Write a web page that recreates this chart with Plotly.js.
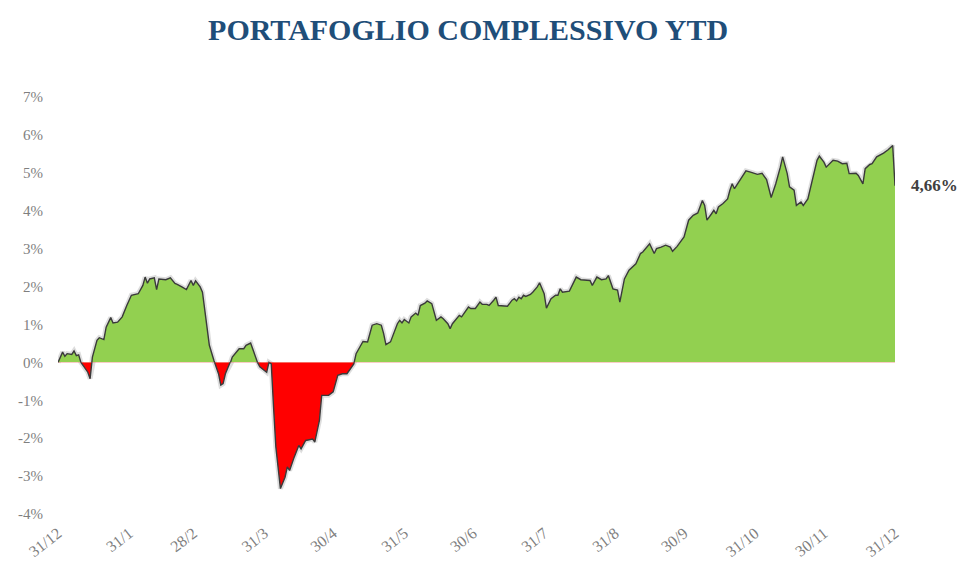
<!DOCTYPE html>
<html>
<head>
<meta charset="utf-8">
<script src="https://cdn.plot.ly/plotly-3.0.1.min.js"></script>
<style>html,body{margin:0;padding:0;background:#fff;}#chart{width:962px;height:570px;}</style>
</head>
<body>
<div id="chart"></div>
<script>
// Data (cumulative YTD return, %)
const dates = [
"2017-12-31","2018-01-02","2018-01-03","2018-01-04","2018-01-06","2018-01-07","2018-01-08","2018-01-09","2018-01-10","2018-01-12",
"2018-01-13","2018-01-14","2018-01-15","2018-01-17","2018-01-18","2018-01-20","2018-01-21","2018-01-23","2018-01-24","2018-01-26",
"2018-01-28","2018-01-30","2018-02-01","2018-02-04","2018-02-06","2018-02-07","2018-02-08","2018-02-09","2018-02-11","2018-02-12",
"2018-02-13","2018-02-16","2018-02-18","2018-02-20","2018-02-21","2018-02-23","2018-02-25","2018-02-27","2018-02-28","2018-03-01",
"2018-03-03","2018-03-04","2018-03-06","2018-03-07","2018-03-09","2018-03-11","2018-03-12","2018-03-13","2018-03-14","2018-03-16",
"2018-03-17","2018-03-19","2018-03-20","2018-03-22","2018-03-23","2018-03-25","2018-03-26","2018-03-28","2018-03-29","2018-03-31",
"2018-04-01","2018-04-02","2018-04-03","2018-04-04","2018-04-05","2018-04-07","2018-04-09","2018-04-10","2018-04-11","2018-04-13",
"2018-04-15","2018-04-16","2018-04-18","2018-04-21","2018-04-22","2018-04-24","2018-04-25","2018-04-28","2018-04-30","2018-05-02",
"2018-05-04","2018-05-06","2018-05-07","2018-05-09","2018-05-10","2018-05-12","2018-05-13","2018-05-15","2018-05-17","2018-05-19",
"2018-05-21","2018-05-22","2018-05-23","2018-05-25","2018-05-26","2018-05-28","2018-05-29","2018-05-30","2018-05-31","2018-06-02",
"2018-06-03","2018-06-05","2018-06-06","2018-06-07","2018-06-09","2018-06-10","2018-06-12","2018-06-13","2018-06-14","2018-06-16",
"2018-06-17","2018-06-19","2018-06-20","2018-06-21","2018-06-23","2018-06-24","2018-06-25","2018-06-27","2018-06-28","2018-06-29",
"2018-07-01","2018-07-03","2018-07-04","2018-07-06","2018-07-07","2018-07-09","2018-07-10","2018-07-11","2018-07-13","2018-07-15",
"2018-07-17","2018-07-18","2018-07-19","2018-07-20","2018-07-21","2018-07-22","2018-07-23","2018-07-25","2018-07-26","2018-07-28",
"2018-07-29","2018-07-31","2018-08-01","2018-08-03","2018-08-05","2018-08-06","2018-08-07","2018-08-08","2018-08-11","2018-08-14",
"2018-08-16","2018-08-19","2018-08-20","2018-08-21","2018-08-23","2018-08-25","2018-08-27","2018-08-28","2018-08-30","2018-09-01",
"2018-09-02","2018-09-04","2018-09-06","2018-09-09","2018-09-11","2018-09-12","2018-09-14","2018-09-15","2018-09-17","2018-09-18",
"2018-09-20","2018-09-22","2018-09-24","2018-09-25","2018-09-27","2018-09-30","2018-10-02","2018-10-04","2018-10-06","2018-10-08",
"2018-10-09","2018-10-10","2018-10-12","2018-10-13","2018-10-14","2018-10-15","2018-10-17","2018-10-19","2018-10-20","2018-10-21",
"2018-10-22","2018-10-24","2018-10-27","2018-10-29","2018-11-01","2018-11-03","2018-11-05","2018-11-07","2018-11-09","2018-11-11",
"2018-11-12","2018-11-14","2018-11-15","2018-11-17","2018-11-18","2018-11-20","2018-11-21","2018-11-23","2018-11-25","2018-11-27",
"2018-11-28","2018-11-30","2018-12-01","2018-12-04","2018-12-06","2018-12-08","2018-12-10","2018-12-11","2018-12-14","2018-12-15",
"2018-12-17","2018-12-18","2018-12-20","2018-12-21","2018-12-23","2018-12-26","2018-12-28","2018-12-30","2018-12-31"
];
const values = [
0.00,0.27,0.16,0.23,0.21,0.30,0.18,0.20,0.00,-0.17,
-0.26,-0.43,0.14,0.58,0.65,0.60,0.93,1.18,1.04,1.06,
1.20,1.50,1.77,1.81,2.03,2.25,2.09,2.20,2.23,1.92,
2.20,2.18,2.23,2.08,2.06,1.99,1.92,2.16,2.03,2.15,
1.99,1.85,0.93,0.45,0.05,-0.30,-0.60,-0.56,-0.30,-0.04,
0.14,0.27,0.36,0.36,0.45,0.51,0.32,0.00,-0.12,-0.21,
-0.26,0.00,-0.04,-1.18,-2.23,-3.33,-3.03,-2.76,-2.85,-2.50,
-2.19,-2.28,-2.06,-2.02,-2.10,-1.53,-0.87,-0.87,-0.78,-0.34,
-0.30,-0.30,-0.21,-0.04,0.23,0.45,0.55,0.54,0.98,1.02,
0.98,0.76,0.47,0.54,0.71,1.02,1.11,1.04,1.13,1.04,
1.20,1.30,1.24,1.50,1.56,1.62,1.55,1.33,1.11,1.20,
1.15,1.02,0.89,1.02,1.15,1.24,1.20,1.37,1.46,1.42,
1.42,1.59,1.53,1.53,1.50,1.64,1.72,1.50,1.48,1.48,
1.64,1.68,1.62,1.72,1.68,1.77,1.74,1.79,1.85,1.99,
2.10,1.81,1.43,1.68,1.77,1.77,1.94,1.85,1.88,2.25,
2.18,2.16,2.16,2.03,2.25,2.18,2.20,2.29,1.94,1.91,
1.59,2.20,2.43,2.60,2.87,2.91,3.04,3.13,2.87,3.00,
3.04,3.09,3.04,2.93,3.06,3.31,3.75,3.88,3.94,4.27,
4.14,3.75,3.92,4.01,3.92,4.10,4.19,4.31,4.54,4.71,
4.58,4.76,5.05,5.02,4.96,4.99,4.82,4.35,4.71,5.15,
5.42,4.98,4.63,4.54,4.14,4.23,4.14,4.31,4.80,5.33,
5.44,5.28,5.15,5.33,5.31,5.24,5.25,4.98,4.99,4.93,
4.71,5.11,5.22,5.24,5.42,5.52,5.61,5.72,4.66
];
const tickDates = ["2017-12-31","2018-01-31","2018-02-28","2018-03-31","2018-04-30","2018-05-31","2018-06-30","2018-07-31","2018-08-31","2018-09-30","2018-10-31","2018-11-30","2018-12-31"];
const tickLabels = ["31/12","31/1","28/2","31/3","30/4","31/5","30/6","31/7","31/8","30/9","31/10","30/11","31/12"];
const posTicks = [0,1,2,3,4,5,6,7];
const negTicks = [-4,-3,-2,-1];
const titleText = "PORTAFOGLIO COMPLESSIVO YTD";

const serif = "Liberation Serif, Times New Roman, serif";
const tickFont = {family: serif, size: 15, color: "#7f7f7f"};
const xTickFont = {family: serif, size: 16, color: "#7f7f7f"};
const lineStyle = {color: "#3a3a3a", width: 1.4};
const shadowStyle = {color: "rgba(0,0,0,0.13)", width: 5};

const traces = [
  {x: dates, y: values, xaxis: "x", yaxis: "y", type: "scatter", mode: "lines", line: shadowStyle, hoverinfo: "skip", showlegend: false},
  {x: dates, y: values, xaxis: "x", yaxis: "y2", type: "scatter", mode: "lines", line: shadowStyle, hoverinfo: "skip", showlegend: false},
  {x: dates, y: values, xaxis: "x", yaxis: "y", type: "scatter", mode: "lines", fill: "tozeroy", fillcolor: "#92d050", line: lineStyle, showlegend: false},
  {x: dates, y: values, xaxis: "x", yaxis: "y2", type: "scatter", mode: "lines", fill: "tozeroy", fillcolor: "#ff0000", line: lineStyle, showlegend: false}
];

const lastVal = values[values.length - 1];
const split = 4 / 11;

const layout = {
  width: 962, height: 570,
  paper_bgcolor: "#ffffff", plot_bgcolor: "rgba(0,0,0,0)",
  margin: {l: 58, r: 67, t: 97, b: 56},
  showlegend: false,
  title: {text: titleText, font: {family: serif, size: 30, color: "#1f4e79", weight: "bold"}, x: 0.49, xref: "paper", xanchor: "center", y: 0.948, yref: "container", yanchor: "middle"},
  xaxis: {
    type: "date", range: [dates[0], dates[dates.length - 1]], anchor: "y2",
    tickvals: tickDates, ticktext: tickLabels, tickangle: -38, tickfont: xTickFont,
    showgrid: false, zeroline: false, showline: false, ticks: "", ticklabelstandoff: 6
  },
  yaxis: {
    domain: [split, 1], range: [0, 7], anchor: "x",
    tickvals: posTicks, ticktext: posTicks.map(v => v + "%"), tickfont: tickFont,
    showgrid: false, zeroline: false, showline: false, ticks: "", ticklabelstandoff: 14
  },
  yaxis2: {
    domain: [0, split], range: [-4, 0], anchor: "x",
    tickvals: negTicks, ticktext: negTicks.map(v => v + "%"), tickfont: tickFont,
    showgrid: false, zeroline: false, showline: false, ticks: "", ticklabelstandoff: 14
  },
  annotations: [{
    x: dates[dates.length - 1], y: lastVal, xref: "x", yref: "y",
    text: lastVal.toFixed(2).replace(".", ",") + "%", showarrow: false,
    xanchor: "left", yanchor: "middle", xshift: 14,
    font: {family: serif, size: 17, color: "#404040", weight: "bold"}
  }]
};

Plotly.newPlot("chart", traces, layout, {displayModeBar: false, staticPlot: true});
</script>
</body>
</html>
